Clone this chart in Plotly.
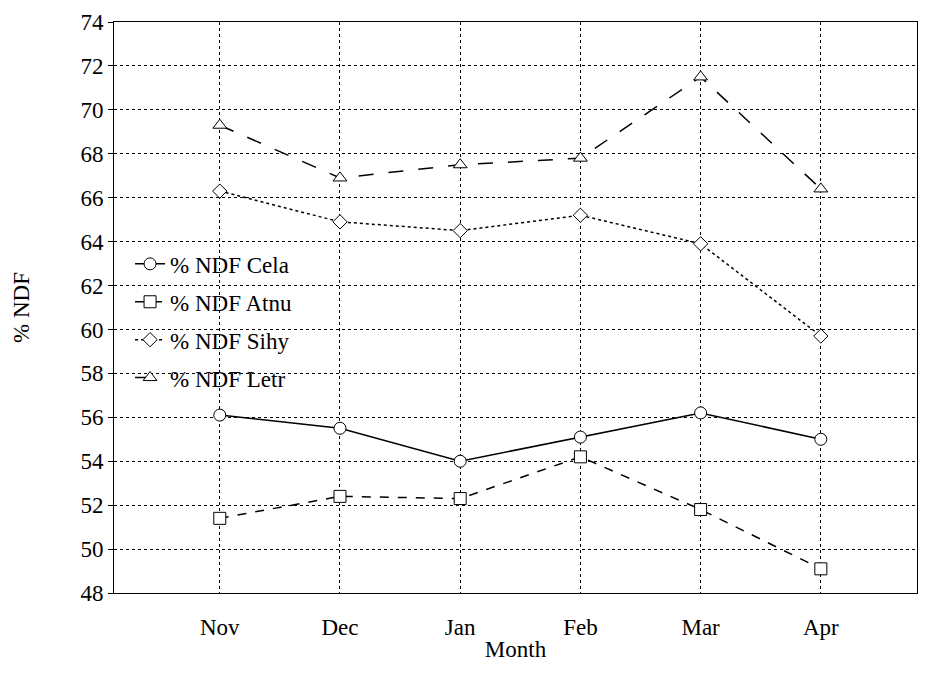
import plotly.graph_objects as go

months = ["Nov", "Dec", "Jan", "Feb", "Mar", "Apr"]
cela = [56.1, 55.5, 54.0, 55.1, 56.2, 55.0]
atnu = [51.4, 52.4, 52.3, 54.2, 51.8, 49.1]
sihy = [66.3, 64.9, 64.5, 65.2, 63.9, 59.7]
letr = [69.3, 66.9, 67.5, 67.8, 71.5, 66.4]

series = [
    ("% NDF Cela", cela, "solid", "circle", 12),
    ("% NDF Atnu", atnu, "dash", "square", 12),
    ("% NDF Sihy", sihy, "dot", "diamond", 11),
    ("% NDF Letr", letr, "longdash", "triangle-up", 12),
]

serif = "Liberation Serif, Times New Roman, serif"

fig = go.Figure()
for name, vals, dash, sym, sz in series:
    fig.add_trace(go.Scatter(
        x=list(range(len(months))), y=vals, name=name, mode="lines+markers",
        legendgroup=name,
        line=dict(color="black", width=1.5, dash=dash),
        marker=dict(symbol=sym, size=sz, color="white", line=dict(width=1, color="black")),
    ))

fig.update_layout(
    width=931, height=692,
    margin=dict(l=106, r=22, t=14, b=107),
    plot_bgcolor="white", paper_bgcolor="white",
    font=dict(family=serif, size=23, color="black"),
    showlegend=True,
    legend=dict(x=0.02, y=0.614, xanchor="left", yanchor="top",
                bgcolor="rgba(0,0,0,0)", font=dict(family=serif, size=23), tracegroupgap=5),
)
fig.update_xaxes(
    range=[-0.88, 5.8], tickvals=list(range(len(months))), ticktext=months,
    tickfont=dict(family=serif, size=23), ticklabelstandoff=13, automargin=False,
    showline=True, linecolor="black", mirror=True, linewidth=1,
    showgrid=True, gridcolor="black", griddash="dot", gridwidth=1,
    ticks="", zeroline=False,
    title=dict(text="Month", standoff=2, font=dict(family=serif, size=23)),
)
fig.update_yaxes(
    range=[48, 74], dtick=2, tickfont=dict(family=serif, size=23), automargin=False,
    showline=True, linecolor="black", mirror=True, linewidth=1,
    showgrid=True, gridcolor="black", griddash="dot", gridwidth=1,
    ticks="outside", ticklen=5, tickcolor="black", zeroline=False,
    title=dict(text="% NDF", standoff=44, font=dict(family=serif, size=23)),
)
fig.write_html("out.html")
